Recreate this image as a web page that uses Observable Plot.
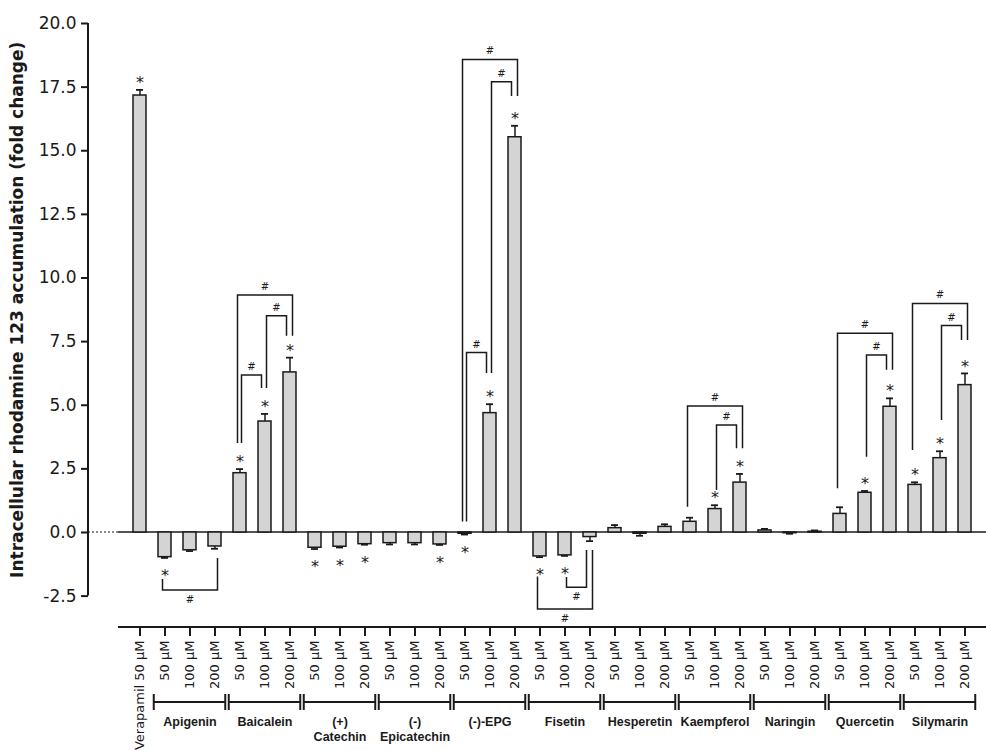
<!DOCTYPE html>
<html><head><meta charset="utf-8">
<script src="https://cdn.jsdelivr.net/npm/d3@7"></script>
<script src="https://cdn.jsdelivr.net/npm/@observablehq/plot@0.6"></script>
<style>body{margin:0;background:#fff} #chart{width:986px;height:750px;overflow:hidden}</style>
</head><body><div id="chart"></div>
<script>
// ---- data ----
const groups = ["Apigenin","Baicalein","(+) Catechin","(-) Epicatechin","(-)-EPG","Fisetin","Hesperetin","Kaempferol","Naringin","Quercetin","Silymarin"];
const groupLabels = ["Apigenin","Baicalein","(+)\nCatechin","(-)\nEpicatechin","(-)-EPG","Fisetin","Hesperetin","Kaempferol","Naringin","Quercetin","Silymarin"];
const doses = ["50 µM","100 µM","200 µM"];
const controlKey = "Verapamil";
const controlLabel = "Verapamil 50 µM";
const controlValue = 17.17;
const controlError = 0.22;
const controlStar = true;
const meanValues = [
  [-0.97, -0.70, -0.55],
  [2.33, 4.36, 6.29],
  [-0.60, -0.56, -0.46],
  [-0.42, -0.42, -0.47],
  [-0.05, 4.69, 15.53],
  [-0.94, -0.90, -0.18],
  [0.17, -0.05, 0.22],
  [0.42, 0.92, 1.96],
  [0.08, -0.03, 0.03],
  [0.73, 1.56, 4.94],
  [1.87, 2.92, 5.79]
];
const errorValues = [
  [0.03, 0.03, 0.09],
  [0.16, 0.30, 0.58],
  [0.05, 0.03, 0.02],
  [0.05, 0.05, 0.02],
  [0.03, 0.35, 0.45],
  [0.03, 0.02, 0.16],
  [0.12, 0.08, 0.10],
  [0.16, 0.15, 0.34],
  [0.06, 0.02, 0.05],
  [0.26, 0.07, 0.33],
  [0.10, 0.27, 0.46]
];
const starFlags = [
  [true, false, false],
  [true, true, true],
  [true, true, true],
  [false, false, true],
  [true, true, true],
  [true, true, false],
  [false, false, false],
  [false, true, true],
  [false, false, false],
  [false, true, true],
  [true, true, true]
];
// [group, from dose index, to dose index, bracket level, left leg end, right leg end]
const brackets = [
  ["Apigenin", 0, 2, -2.28, -1.85, -1.02],
  ["Baicalein", 0, 1, 6.17, 3.50, 5.66],
  ["Baicalein", 1, 2, 8.50, 5.66, 7.71],
  ["Baicalein", 0, 2, 9.31, 3.50, 7.71],
  ["(-)-EPG", 0, 1, 7.05, 0.41, 6.25],
  ["(-)-EPG", 1, 2, 17.69, 6.25, 17.13],
  ["(-)-EPG", 0, 2, 18.57, 0.41, 17.13],
  ["Fisetin", 1, 2, -2.17, -1.77, -0.71],
  ["Fisetin", 0, 2, -3.03, -1.75, -0.71],
  ["Kaempferol", 1, 2, 4.20, 1.65, 3.29],
  ["Kaempferol", 0, 2, 4.95, 0.99, 3.29],
  ["Quercetin", 1, 2, 6.95, 2.96, 6.37],
  ["Quercetin", 0, 2, 7.81, 1.72, 6.37],
  ["Silymarin", 1, 2, 8.11, 4.40, 7.54],
  ["Silymarin", 0, 2, 8.98, 3.22, 7.54]
];
const yDomain = [-2.5, 20];
const yTicks = [-2.5, 0, 2.5, 5, 7.5, 10, 12.5, 15, 17.5, 20];
const yTitle = "Intracellular rhodamine 123 accumulation (fold change)";
const sigMark = "*";
const diffMark = "#";

// ---- table ----
const rows = [{key: controlKey, label: controlLabel, value: controlValue, err: controlError, star: controlStar}];
groups.forEach((g, gi) => doses.forEach((d, di) => rows.push({
  key: g + "|" + d, label: d, group: g,
  value: meanValues[gi][di], err: errorValues[gi][di], star: starFlags[gi][di]
})));
rows.forEach(r => r.end = r.value + (r.value < 0 ? -r.err : r.err));
const labelByKey = new Map(rows.map(r => [r.key, r.label]));
const groupRows = groups.map((g, i) => ({key: g + "|" + doses[1], text: groupLabels[i], first: g + "|" + doses[0], last: g + "|" + doses[2]}));
const ink = "#1a1a1a";

function decorations(index, scales, values, dims) {
  const x = scales.x, y = scales.y;
  const bw = x.bandwidth();
  const step = x.step();
  const cx = k => x(k) + bw / 2;
  const [r0, r1] = x.range();
  const g = d3.create("svg:g").attr("fill", "none").attr("stroke", ink).attr("stroke-width", 1.5);
  const xAxisY = dims.height - dims.marginBottom;
  const line = (x1, y1, x2, y2) => g.append("line").attr("x1", x1).attr("y1", y1).attr("x2", x2).attr("y2", y2);
  // y axis domain
  line(dims.marginLeft, y(yDomain[1]), dims.marginLeft, y(yDomain[0])).attr("stroke-width", 2);
  // zero line
  line(dims.marginLeft, y(0), r0, y(0)).attr("stroke-dasharray", "2,2").attr("stroke-width", 1.2);
  line(r0, y(0), r1, y(0));
  // x axis domain
  line(r0, xAxisY, r1, xAxisY).attr("stroke-width", 2);
  // group brackets
  const gy = xAxisY + 75, ext = step * 0.43;
  for (const gr of groupRows) {
    const a = cx(gr.first) - ext, b = cx(gr.last) + ext;
    line(a, gy, b, gy).attr("stroke-width", 2);
    line(a, gy - 8, a, gy + 8).attr("stroke-width", 2);
    line(b, gy - 8, b, gy + 8).attr("stroke-width", 2);
  }
  // significance brackets
  const t = d3.create("svg:g").attr("font-size", 10).attr("font-family", "DejaVu Sans").attr("fill", ink).attr("text-anchor", "middle");
  for (const [grp, from, to, level, le, re] of brackets) {
    const span = to - from;
    const offL = span === 1 ? 2 : -2, offR = span === 1 ? -3 : 3;
    const xa = cx(grp + "|" + doses[from]) + offL;
    const xb = cx(grp + "|" + doses[to]) + offR;
    const yl = y(level);
    g.append("path").attr("d", `M${xa},${y(le)}V${yl}H${xb}V${y(re)}`);
    const below = level < 0;
    t.append("text").attr("x", (xa + xb) / 2).attr("y", below ? yl + 13 : yl - 5).text(diffMark);
  }
  const root = d3.create("svg:g");
  root.append(() => g.node());
  root.append(() => t.node());
  return root.node();
}

const chart = Plot.plot({
  width: 986, height: 750,
  marginLeft: 88, marginRight: 0, marginTop: 20, marginBottom: 123,
  style: {fontFamily: "DejaVu Sans, sans-serif", fontSize: "13px", color: ink, background: "#fff", overflow: "visible"},
  x: {type: "band", domain: rows.map(r => r.key), range: [118, 986], paddingInner: 0.5, paddingOuter: 0.22},
  y: {domain: yDomain, range: [595.6, 23]},
  marks: [
    decorations,
    Plot.barY(rows, {x: "key", y: "value", fill: "#d4d4d4", stroke: ink, strokeWidth: 1.5}),
    Plot.ruleX(rows, {x: "key", y1: "value", y2: "end", stroke: ink, strokeWidth: 1.5}),
    Plot.tickY(rows, {x: "key", y: "end", insetLeft: 3, insetRight: 3, stroke: ink, strokeWidth: 1.8}),
    Plot.text(rows.filter(r => r.star && r.value >= 0), {x: "key", y: "end", text: () => sigMark, dy: -7, fontSize: 16}),
    Plot.text(rows.filter(r => r.star && r.value < 0), {x: "key", y: "end", text: () => sigMark, dy: 18, fontSize: 16}),
    Plot.axisY({ticks: yTicks, tickFormat: d => d.toFixed(1), tickSize: 7, tickPadding: 5, fontSize: 17, label: null, strokeWidth: 2}),
    Plot.axisX({tickRotate: -90, tickSize: 9, tickPadding: 4, fontSize: 13, tickFormat: k => labelByKey.get(k), label: null, strokeWidth: 2}),
    Plot.text(groupRows, {x: "key", text: "text", frameAnchor: "bottom", dy: 88, lineAnchor: "top", fontWeight: "bold", fontFamily: "Liberation Sans, Arial, sans-serif", fontSize: 12.5, lineHeight: 1.2}),
    Plot.text([{t: yTitle, y: (yDomain[0] + yDomain[1]) / 2}], {y: "y", text: "t", frameAnchor: "left", textAnchor: "middle", dx: -71, rotate: -90, fontWeight: "bold", fontSize: 17})
  ]
});
document.getElementById("chart").append(chart);
</script>
</body></html>
